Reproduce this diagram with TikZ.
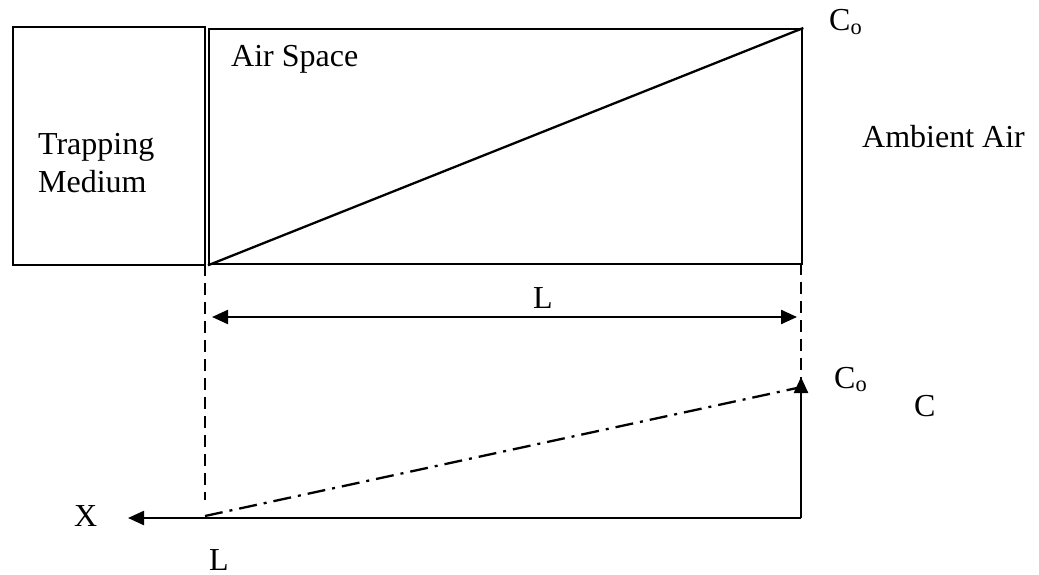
\documentclass[tikz,border=0pt]{standalone}
\usepackage{fontspec}
\setmainfont{Liberation Serif}
\usetikzlibrary{arrows.meta}
\begin{document}
\begin{tikzpicture}[x=1pt,y=-1pt,
  line width=2.3pt,
  lbl/.style={anchor=base west,inner sep=0pt,font=\fontsize{32}{38}\selectfont},
  tip/.style={-{Triangle[length=16pt,width=14pt]}},
  dashv/.style={dash pattern=on 12pt off 7pt},
  dashdot/.style={dash pattern=on 18pt off 7pt on 3pt off 7pt}]
\useasboundingbox (0,0) rectangle (1039,575);
% boxes
\node[draw,line width=2.3pt,minimum width=192pt,minimum height=238pt,inner sep=0pt,anchor=north west] (trap) at (12,26) {};
\node[draw,line width=2.3pt,minimum width=593pt,minimum height=235pt,inner sep=0pt,anchor=north west] (air) at (208,28) {};
\draw (air.south west) -- (air.north east);
% labels
\node[lbl,align=left] (tm) at (37,193) {Trapping\\Medium};
\node[lbl] (as) at (230,67) {Air Space};
\node[lbl] (amb) at (861,148) {Ambient Air};
\node[lbl] (co1) at (828,31) {C\textsubscript{o}};
\node[lbl] (l1) at (532,308) {L};
\node[lbl] (co2) at (833,388) {C\textsubscript{o}};
\node[lbl] (c) at (913,416) {C};
\node[lbl] (x) at (73,526) {X};
\node[lbl] (l2) at (208,570) {L};
% coordinates
\coordinate (dl0) at (205,264);
\coordinate (dl1) at (205,500);
\coordinate (dr0) at (801,263);
\coordinate (dr1) at (801,395);
\coordinate (la) at (212,317);
\coordinate (lb) at (797,317);
\coordinate (o) at (801,518);
\coordinate (xe) at (128,518);
\coordinate (ce) at (801,377);
\coordinate (d0) at (205,516);
\coordinate (d1) at (797,388);
% dashed guides
\draw[dashv] (dl0) -- (dl1);
\draw[dashv] (dr0) -- (dr1);
% L dimension
\draw[{Triangle[length=16pt,width=14pt]}-{Triangle[length=16pt,width=14pt]}] (la) -- (lb);
% axes
\draw[tip] (o) -- (xe);
\draw[tip] (o) -- (ce);
\draw[dashdot] (d0) -- (d1);
\end{tikzpicture}
\end{document}
